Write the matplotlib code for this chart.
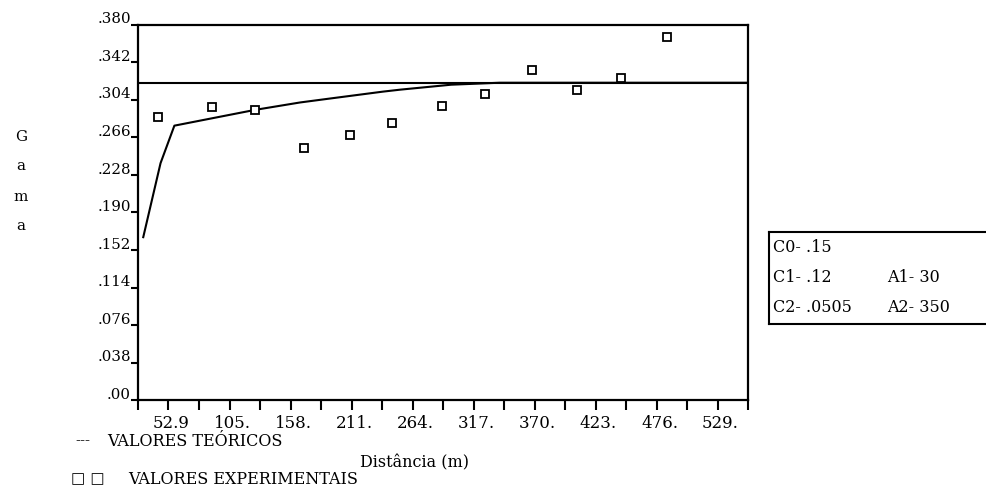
import matplotlib
matplotlib.use("Agg")
import matplotlib.pyplot as plt
from matplotlib.transforms import ScaledTranslation

# ---- data ----
dist_exp = [44, 91, 128, 170, 210, 247, 290, 327, 368, 407, 445, 485]
gamma_exp = [0.2866, 0.2972, 0.2940, 0.2556, 0.2690, 0.2810, 0.2982, 0.3103, 0.3346, 0.3142, 0.3263, 0.3677]

dist_teo = [31, 46, 58, 128, 167, 193, 239, 254, 298, 340, 555]
gamma_teo = [0.165, 0.240, 0.278, 0.294, 0.3015, 0.3055, 0.3125, 0.3145, 0.3195, 0.3215, 0.3215]

sill = 0.3215

y_ticks = [0.0, 0.038, 0.076, 0.114, 0.152, 0.190, 0.228, 0.266, 0.304, 0.342, 0.380]
y_tick_labels = [".00", ".038", ".076", ".114", ".152", ".190", ".228", ".266", ".304", ".342", ".380"]

x_step = 26.45
x_tick_labels = ["52.9", "105.", "158.", "211.", "264.", "317.", "370.", "423.", "476.", "529."]

param_left = ["C0- .15", "C1- .12", "C2- .0505"]
param_right = ["", "A1- 30", "A2- 350"]

# ---- figure ----
W, H = 987, 494
fig = plt.figure(figsize=(W / 100, H / 100), dpi=100)
serif = "DejaVu Serif"
fs_tick = 10.8
fs_txt = 11.5

ax = fig.add_axes([138 / W, (H - 400) / H, 610 / W, 375 / H])
ax.set_xlim(x_step, 21 * x_step)
ax.set_ylim(0, 0.380)

ax.plot(dist_teo, gamma_teo, color="black", lw=1.5, solid_joinstyle="round")
ax.axhline(sill, color="black", lw=1.5)
ax.plot(dist_exp, gamma_exp, linestyle="none", marker="s", markersize=6,
        markerfacecolor="white", markeredgecolor="black", markeredgewidth=1.3)

for s in ax.spines.values():
    s.set_linewidth(1.6)
    s.set_color("black")

xt = [x_step * k for k in range(1, 22)]
xl = []
for k in range(1, 22):
    if k % 2 == 0 and k // 2 - 1 < len(x_tick_labels):
        xl.append(x_tick_labels[k // 2 - 1])
    else:
        xl.append("")
ax.set_xticks(xt)
ax.set_xticklabels(xl, fontfamily=serif, fontsize=12)
ax.set_yticks(y_ticks)
ax.set_yticklabels(y_tick_labels, fontfamily=serif, fontsize=fs_tick)
ax.tick_params(axis="x", direction="out", length=7, width=1.5, pad=4)
ax.tick_params(axis="y", direction="out", length=5, width=1.5, pad=0)

for lab in ax.get_yticklabels():
    lab.set_transform(lab.get_transform() + ScaledTranslation(0, 0.07, fig.dpi_scale_trans))
for lab in ax.get_xticklabels():
    lab.set_transform(lab.get_transform() + ScaledTranslation(0.03, 0, fig.dpi_scale_trans))

# y label stacked letters
for ch, yy in zip("Gama", [137, 166, 197, 226]):
    fig.text(21 / W, 1 - yy / H, ch, ha="center", va="center", fontfamily=serif, fontsize=fs_tick)

# x label
fig.text(415 / W, 1 - 463 / H, "Distância (m)", ha="center", va="center",
         fontfamily=serif, fontsize=fs_txt)

# legend texts
fig.text(75 / W, 1 - 441 / H, "---", ha="left", va="center", fontfamily=serif, fontsize=fs_tick)
fig.text(107 / W, 1 - 441 / H, "VALORES TEÓRICOS", ha="left", va="center",
         fontfamily=serif, fontsize=fs_txt)
fig.text(71 / W, 1 - 479 / H, "\u25a1 \u25a1", ha="left", va="center",
         fontfamily="DejaVu Sans", fontsize=fs_tick, fontweight="bold")
fig.text(128 / W, 1 - 479 / H, "VALORES EXPERIMENTAIS", ha="left", va="center",
         fontfamily=serif, fontsize=fs_txt)

# parameter box
bx = fig.add_axes([769 / W, (H - 324) / H, 230 / W, 92 / H])
bx.set_xticks([])
bx.set_yticks([])
for s in bx.spines.values():
    s.set_linewidth(1.5)
for txt, yy in zip(param_left, [248, 278, 307]):
    fig.text(773 / W, 1 - yy / H, txt, ha="left", va="center", fontfamily=serif, fontsize=fs_txt)
for txt, yy in zip(param_right, [248, 278, 307]):
    if txt:
        fig.text(887 / W, 1 - yy / H, txt, ha="left", va="center", fontfamily=serif, fontsize=fs_txt)

fig.savefig("out.png", dpi=100)
